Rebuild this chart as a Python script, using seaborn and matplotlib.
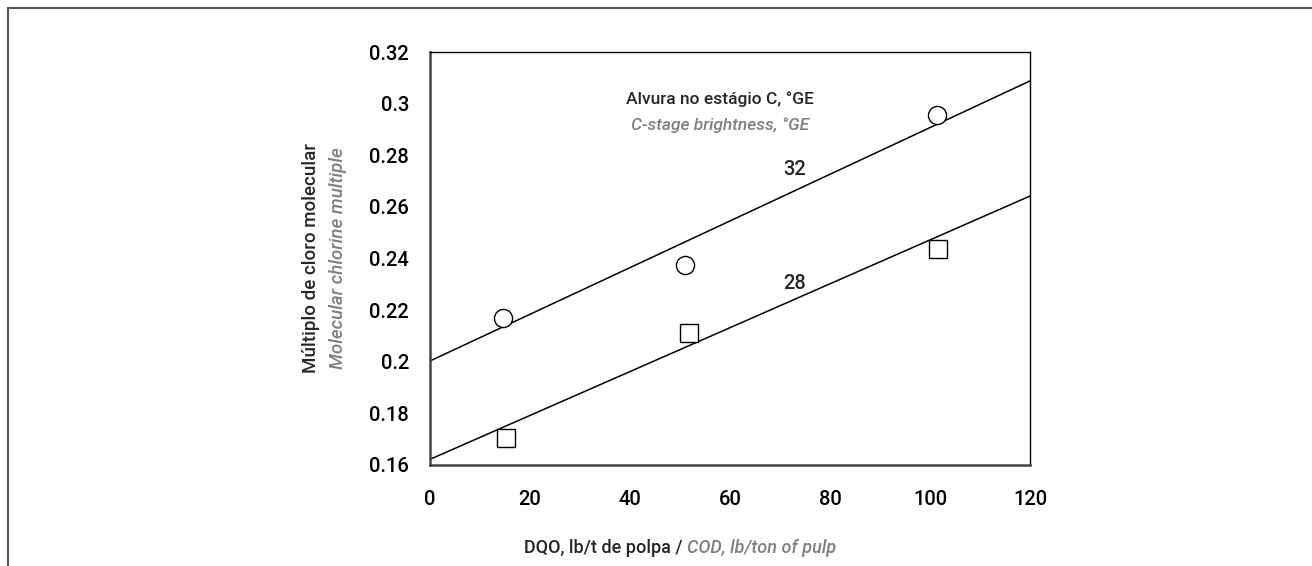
import matplotlib
matplotlib.use("Agg")
import matplotlib.pyplot as plt
import seaborn as sns
import pandas as pd
from matplotlib.patches import Rectangle

# ---- data ----
cod_32 = [14.6, 51.0, 101.4]
mult_32 = [0.2169, 0.2375, 0.2956]
cod_28 = [15.2, 51.8, 101.6]
mult_28 = [0.1704, 0.2111, 0.2437]
fit_x = [0, 120]
fit_32 = [0.2003, 0.3088]
fit_28 = [0.1622, 0.2642]
curve_labels = ["32", "28"]
xticks = [0, 20, 40, 60, 80, 100, 120]
yticks = [0.16, 0.18, 0.2, 0.22, 0.24, 0.26, 0.28, 0.3, 0.32]
ytick_labels = ["0.16", "0.18", "0.2", "0.22", "0.24", "0.26", "0.28", "0.3", "0.32"]

sns.set_style("white")
plt.rcParams["font.family"] = ["Roboto", "DejaVu Sans"]
plt.rcParams["font.weight"] = "medium"

W, H = 1312, 566
fig = plt.figure(figsize=(W / 100, H / 100), dpi=100)
ax = fig.add_axes([430 / W, 1 - 465 / H, 600 / W, 413 / H])

gray = "#808080"
dark = "#444444"

df32 = pd.DataFrame({"x": cod_32, "y": mult_32})
df28 = pd.DataFrame({"x": cod_28, "y": mult_28})
l32 = pd.DataFrame({"x": fit_x, "y": fit_32})
l28 = pd.DataFrame({"x": fit_x, "y": fit_28})

sns.lineplot(data=l32, x="x", y="y", ax=ax, color="black", lw=1.1)
sns.lineplot(data=l28, x="x", y="y", ax=ax, color="black", lw=1.1)
sns.scatterplot(data=df32, x="x", y="y", ax=ax, marker="o", s=170,
                facecolor="white", edgecolor="black", linewidth=1.0, zorder=5)
sns.scatterplot(data=df28, x="x", y="y", ax=ax, marker="s", s=150,
                facecolor="white", edgecolor="black", linewidth=1.0, zorder=5)

ax.set_xlim(0, 120)
ax.set_ylim(0.16, 0.32)
ax.set_xticks(xticks)
ax.set_xticklabels([str(t) for t in xticks])
ax.set_yticks(yticks)
ax.set_yticklabels(ytick_labels)
ax.tick_params(axis="both", direction="out", length=11, width=1.5, color=dark,
               labelsize=14.5, labelcolor="black", pad=4)
ax.tick_params(axis="x", pad=7)
ax.set_xlabel("")
ax.set_ylabel("")
for s in ["left", "bottom"]:
    ax.spines[s].set_color(dark)
    ax.spines[s].set_linewidth(1.8)
for s in ["top", "right"]:
    ax.spines[s].set_color("black")
    ax.spines[s].set_linewidth(1.0)

# curve labels
ax.text(73, 0.2743, curve_labels[0], fontsize=14.5, ha="center", va="center")
ax.text(73, 0.2305, curve_labels[1], fontsize=14.5, ha="center", va="center")

# annotation
ax.text(58, 0.3017, "Alvura no estágio C, °GE", fontsize=12.5, ha="center", va="center")
ax.text(58, 0.2915, "C-stage brightness, °GE", fontsize=12.5, ha="center", va="center",
        color=gray, style="italic")

# y label (two lines)
fig.text(311 / W, 1 - 258 / H, "Múltiplo de cloro molecular", rotation=90,
         fontsize=13.5, ha="center", va="center")
fig.text(338 / W, 1 - 258 / H, "Molecular chlorine multiple", rotation=90,
         fontsize=13.5, ha="center", va="center", color=gray, style="italic")

# x label (mixed)
fig.text(687 / W, 1 - 548 / H, "DQO, lb/t de polpa / ", fontsize=13,
         ha="right", va="center")
fig.text(687 / W, 1 - 548 / H, "COD, lb/ton of pulp", fontsize=13, ha="left",
         va="center", color=gray, style="italic")

# frame border
fig.add_artist(Rectangle((8 / W, -0.2), 1.2, 1.2 - 8 / H, transform=fig.transFigure,
                         fill=False, edgecolor="#555555", lw=1.5))

fig.savefig("out.png", dpi=100)
